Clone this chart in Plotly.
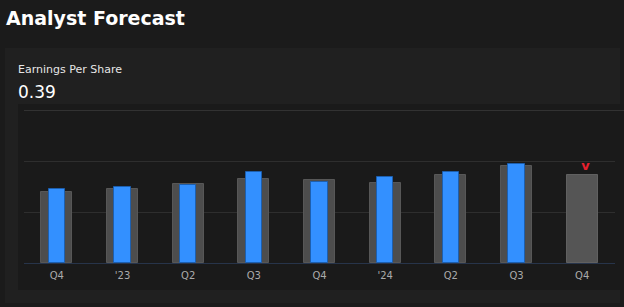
import plotly.graph_objects as go

# ---- data ----
quarters = ["Q4", "'23", "Q2", "Q3", "Q4", "'24", "Q2", "Q3", "Q4"]
estimates = [0.278, 0.289, 0.309, 0.329, 0.324, 0.315, 0.344, 0.380, 0.344]
actuals = [0.289, 0.297, 0.306, 0.357, 0.319, 0.336, 0.357, 0.387, None]
eps_value = "0.39"
grid_vals = [0, 0.2, 0.4, 0.6]

W, H = 624, 307
ML, MR, MT, MB = 24, 9, 110, 44
PW, PH = W - ML - MR, H - MT - MB


def px_x(p):
    return (p - ML) / PW


def px_y(p):
    return (H - MB - p) / PH


xs = list(range(len(quarters)))
est_colors = ["#4d4d4d"] * (len(quarters) - 1) + ["#555555"]
est_lines = ["#575757"] * (len(quarters) - 1) + ["#606060"]

fig = go.Figure()
fig.add_trace(go.Bar(
    x=xs, y=estimates, width=0.47,
    marker=dict(color=est_colors, line=dict(color=est_lines, width=1)),
    hoverinfo="skip",
))
act_x = [x for x, a in zip(xs, actuals) if a is not None]
act_y = [a for a in actuals if a is not None]
fig.add_trace(go.Bar(
    x=act_x, y=act_y, width=0.245,
    marker=dict(color="#3390ff", line=dict(color="#1d5fae", width=1)),
    hoverinfo="skip",
))
fig.add_trace(go.Scatter(
    x=[xs[-1] + 0.05], y=[estimates[-1] + 0.035], mode="text", text=["<b>v</b>"],
    textfont=dict(color="#e8202e", size=13, family="DejaVu Sans"),
    hoverinfo="skip",
))

shapes = [
    dict(type="rect", xref="paper", yref="paper", layer="below",
         x0=px_x(5), x1=px_x(620), y0=px_y(303), y1=px_y(48),
         fillcolor="#202020", line=dict(width=0)),
    dict(type="rect", xref="paper", yref="paper", layer="below",
         x0=px_x(18), x1=px_x(624), y0=px_y(290), y1=px_y(104),
         fillcolor="#1a1a1a", line=dict(width=0)),
    dict(type="line", xref="paper", yref="paper", layer="above",
         x0=0, x1=px_x(624), y0=px_y(110.5), y1=px_y(110.5),
         line=dict(color="#323232", width=1)),
]

annotations = [
    dict(text="<b>Analyst Forecast</b>", xref="paper", yref="paper",
         x=px_x(4), y=px_y(5), xanchor="left", yanchor="top", showarrow=False,
         font=dict(family="DejaVu Sans", size=19, color="#ffffff")),
    dict(text="Earnings Per Share", xref="paper", yref="paper",
         x=px_x(16), y=px_y(61), xanchor="left", yanchor="top", showarrow=False,
         font=dict(family="DejaVu Sans", size=11, color="#e6e6e6")),
    dict(text=eps_value, xref="paper", yref="paper",
         x=px_x(16), y=px_y(80), xanchor="left", yanchor="top", showarrow=False,
         font=dict(family="DejaVu Sans", size=17, color="#ffffff")),
]

fig.update_layout(
    width=W, height=H,
    margin=dict(l=ML, r=MR, t=MT, b=MB),
    paper_bgcolor="#1b1b1b", plot_bgcolor="rgba(0,0,0,0)",
    barmode="overlay", showlegend=False, bargap=0,
    shapes=shapes, annotations=annotations,
    xaxis=dict(range=[-0.5, len(quarters) - 0.5], tickvals=xs, ticktext=quarters,
               showgrid=False, zeroline=False, showline=False, ticks="",
               ticklabelstandoff=5,
               tickfont=dict(family="DejaVu Sans", size=10, color="#aaaaaa"),
               fixedrange=True),
    yaxis=dict(range=[0, 0.6], tickvals=grid_vals, showticklabels=False,
               showgrid=True, gridcolor="#2e2e2e", gridwidth=1,
               zeroline=True, zerolinecolor="#27344a", zerolinewidth=1,
               fixedrange=True),
)

fig.write_html("out.html", config={"displayModeBar": False})
